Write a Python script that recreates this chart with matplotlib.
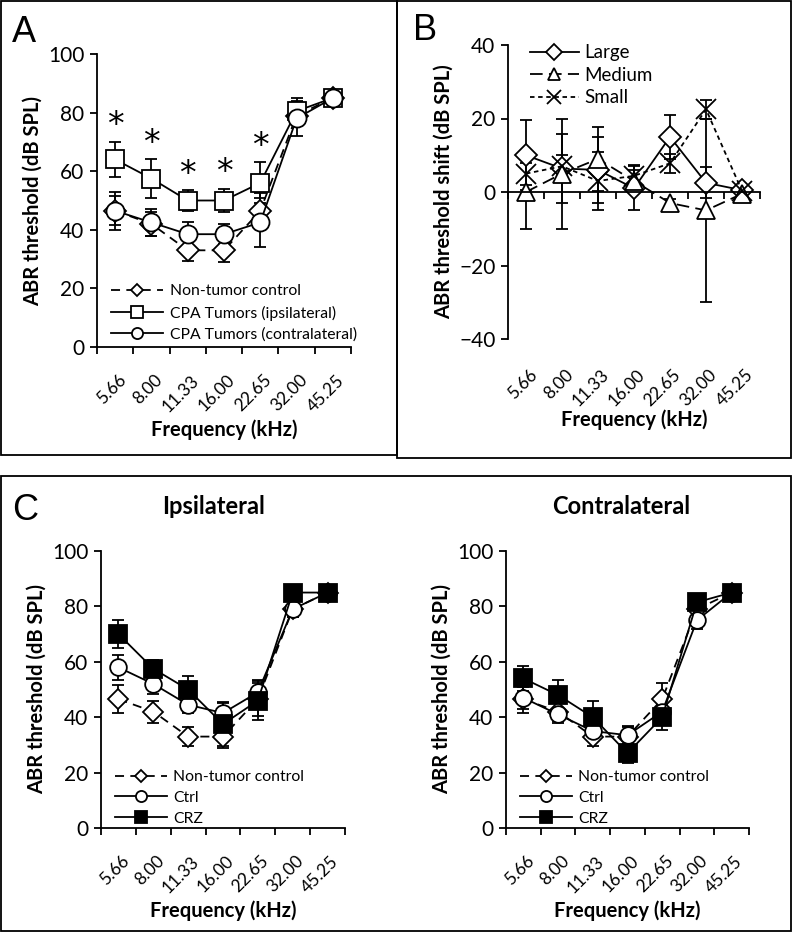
import matplotlib
matplotlib.use("Agg")
import matplotlib.pyplot as plt
from matplotlib.lines import Line2D
from matplotlib.patches import Rectangle
from matplotlib.ticker import FixedLocator, NullLocator
import matplotlib.transforms as mtransforms

plt.rcParams['font.family'] = ['Lato', 'DejaVu Sans']

freq_labels = ['5.66', '8.00', '11.33', '16.00', '22.65', '32.00', '45.25']

# panel A
nontumor = [46.5, 42, 33, 33, 46.5, 79, 85]
nontumor_err = [5, 4, 3.5, 4, 6, 3, 1]
tumor_ipsi = [64, 57.5, 50, 50, 56, 80.5, 85]
tumor_ipsi_err = [6, 6.5, 3.5, 4, 7, 4.5, 1]
tumor_contra = [46.5, 42.5, 38.5, 38.5, 42.5, 78, 85]
tumor_contra_err = [6.5, 4.5, 4, 3.5, 8.5, 6, 1]
signif_idx = [0, 1, 2, 3, 4]

# panel B
shift_large = [10, 6.4, 6, 1, 15, 2.5, 0.5]
shift_large_err = [9.5, 9.3, 9, 6, 6, 4.2, 1]
shift_medium = [0, 5, 9, 3, -3, -5, -0.5]
shift_medium_err = [10, 15, 8.8, 3, 1, 25, 1]
shift_small = [5, 7, 3, 4.4, 7.8, 22.5, 0.3]
shift_small_err = [3, 3, 8, 3, 2.5, 2.5, 1]

# panel C
ctrl_ipsi = [58, 52, 44.5, 41.5, 49, 79, 85]
ctrl_ipsi_err = [4.5, 3.5, 3, 3.5, 4.5, 3, 1]
crz_ipsi = [70, 57.5, 50, 37.5, 46, 85, 85]
crz_ipsi_err = [5, 3, 5, 8, 7, 1, 1]
ctrl_contra = [47, 41, 35, 33.5, 42, 75, 85]
ctrl_contra_err = [4, 2.5, 2, 3, 4, 3, 1]
crz_contra = [54, 48, 40, 27, 40, 81.5, 85]
crz_contra_err = [4.5, 5.5, 6, 3.5, 4.5, 2.5, 1]

W, H = 793, 933
fig = plt.figure(figsize=(W / 100, H / 100), dpi=100)

LW = 1.3
DASH = (0, (5, 3.5))
MDASH = (0, (7, 3.5))
SDASH = (0, (2.5, 2))
TICK_FS = 15
LABEL_FS = 14.5
XT_FS = 12.5
LEG_FS = 11.3
xs = list(range(1, len(freq_labels) + 1))


def px_axes(l, t, r, b):
    return fig.add_axes([l / W, 1 - b / H, (r - l) / W, (b - t) / H])


def series(ax, y, err, marker, ms, ls='-', mfc='white', z=2):
    ax.errorbar(xs, y, yerr=err, color='black', lw=LW, ls=ls, marker=marker,
                ms=ms, mfc=mfc, mec='black', mew=LW, elinewidth=LW,
                capsize=4, capthick=LW, zorder=z)


def set_freq_labels(ax, pad):
    ax.set_xticks(xs)
    ax.set_xticklabels(freq_labels)
    ax.tick_params(axis='x', which='major', length=0, pad=pad, labelsize=XT_FS)
    off = mtransforms.ScaledTranslation(2 / 72, 0, fig.dpi_scale_trans)
    for lab in ax.get_xticklabels():
        lab.set_rotation(45)
        lab.set_ha('right')
        lab.set_va('top')
        lab.set_rotation_mode('anchor')
        lab.set_transform(lab.get_transform() + off)


def style_axes(ax, ymin, ymax, step, xlabels=True):
    ax.set_xlim(0.5, 7.5)
    ax.set_ylim(ymin, ymax)
    ax.set_yticks(range(ymin, ymax + 1, step))
    ax.spines['top'].set_visible(False)
    ax.spines['right'].set_visible(False)
    for s in ('left', 'bottom'):
        ax.spines[s].set_linewidth(LW)
    ax.tick_params(axis='y', direction='out', length=5, width=LW,
                   labelsize=TICK_FS, pad=4)
    ax.xaxis.set_minor_locator(FixedLocator([i + 0.5 for i in range(0, 8)]))
    ax.tick_params(axis='x', which='minor', direction='out', length=5, width=LW)
    if xlabels:
        set_freq_labels(ax, 18)
        ax.set_xlabel('Frequency (kHz)', fontsize=LABEL_FS, fontweight='bold',
                      labelpad=3)
    else:
        ax.set_xticks(xs)
        ax.tick_params(axis='x', which='major', labelbottom=False, length=0)


def legend_handle(ls, marker, ms, mfc='white'):
    return Line2D([], [], color='black', lw=LW, ls=ls, marker=marker, ms=ms,
                  mfc=mfc, mec='black', mew=LW)


# ---------------- A ----------------
axA = px_axes(97, 54, 351, 347)
series(axA, nontumor, nontumor_err, 'D', 11, ls=DASH)
series(axA, tumor_ipsi, tumor_ipsi_err, 's', 13)
series(axA, tumor_contra, tumor_contra_err, 'o', 13)
style_axes(axA, 0, 100, 20)
axA.set_ylabel('ABR threshold (dB SPL)', fontsize=LABEL_FS, fontweight='bold')
for i in signif_idx:
    axA.text(xs[i], tumor_ipsi[i] + tumor_ipsi_err[i] + 5.5, '*', ha='center',
             va='center', fontsize=24, family='DejaVu Sans')
axA.legend([legend_handle(DASH, 'D', 6), legend_handle('-', 's', 8),
            legend_handle('-', 'o', 8)],
           ['Non-tumor control', 'CPA Tumors (ipsilateral)',
            'CPA Tumors (contralateral)'],
           loc='lower left', bbox_to_anchor=(0.02, -0.015), frameon=False,
           fontsize=LEG_FS, handlelength=3.3, handletextpad=0.4, labelspacing=0.45,
           borderaxespad=0.2)

# ---------------- B ----------------
axB = px_axes(508, 45, 760, 339)
series(axB, shift_large, shift_large_err, 'D', 11)
series(axB, shift_medium, shift_medium_err, '^', 13, ls=MDASH)
series(axB, shift_small, shift_small_err, 'x', 14, ls=SDASH)
style_axes(axB, -40, 40, 20, xlabels=False)
axB.spines['bottom'].set_position(('data', 0))
sec = axB.secondary_xaxis('bottom')
sec.spines['bottom'].set_visible(False)
sec.xaxis.set_minor_locator(NullLocator())
set_freq_labels(sec, 20)
sec.set_xlabel('Frequency (kHz)', fontsize=LABEL_FS, fontweight='bold', labelpad=0)
axB.set_ylabel('ABR threshold shift (dB SPL)', fontsize=LABEL_FS, fontweight='bold')
axB.legend([legend_handle('-', 'D', 8), legend_handle(MDASH, '^', 9),
            legend_handle(SDASH, 'x', 10)],
           ['Large', 'Medium', 'Small'],
           loc='upper left', bbox_to_anchor=(0.02, 1.06), frameon=False,
           fontsize=13.5, handlelength=2.6, handletextpad=0.3, labelspacing=0.3)

# ---------------- C ----------------
for left, right, ctrl, ctrl_err, crz, crz_err, title, tx in [
        (101, 345, ctrl_ipsi, ctrl_ipsi_err, crz_ipsi, crz_ipsi_err, 'Ipsilateral', 214),
        (506, 749, ctrl_contra, ctrl_contra_err, crz_contra, crz_contra_err, 'Contralateral', 621)]:
    ax = px_axes(left, 551, right, 828)
    series(ax, nontumor, nontumor_err, 'D', 10, ls=DASH)
    series(ax, ctrl, ctrl_err, 'o', 12)
    series(ax, crz, crz_err, 's', 13, mfc='black')
    style_axes(ax, 0, 100, 20)
    ax.set_ylabel('ABR threshold (dB SPL)', fontsize=LABEL_FS, fontweight='bold')
    ax.legend([legend_handle(DASH, 'D', 6), legend_handle('-', 'o', 8),
               legend_handle('-', 's', 8, mfc='black')],
              ['Non-tumor control', 'Ctrl', 'CRZ'],
              loc='lower left', bbox_to_anchor=(0.02, -0.025), frameon=False,
              fontsize=LEG_FS, handlelength=3.3, handletextpad=0.4,
              labelspacing=0.42, borderaxespad=0.2)
    fig.text(tx / W, 1 - 506 / H, title, ha='center', va='center',
             fontsize=17, fontweight='bold')

# panel boxes and letters
for (l, t, r, b) in [(1, 1, 397, 455), (397, 1, 791, 458), (1, 476, 791, 931)]:
    fig.add_artist(Rectangle((l / W, 1 - b / H), (r - l) / W, (b - t) / H,
                             transform=fig.transFigure, fill=False,
                             edgecolor='black', lw=1.3))
for letter, x, y in [('A', 12, 42), ('B', 413, 40), ('C', 12, 520)]:
    fig.text(x / W, 1 - y / H, letter, fontsize=26, family='Liberation Sans',
             va='baseline', ha='left')

fig.savefig('out.png', dpi=100)
